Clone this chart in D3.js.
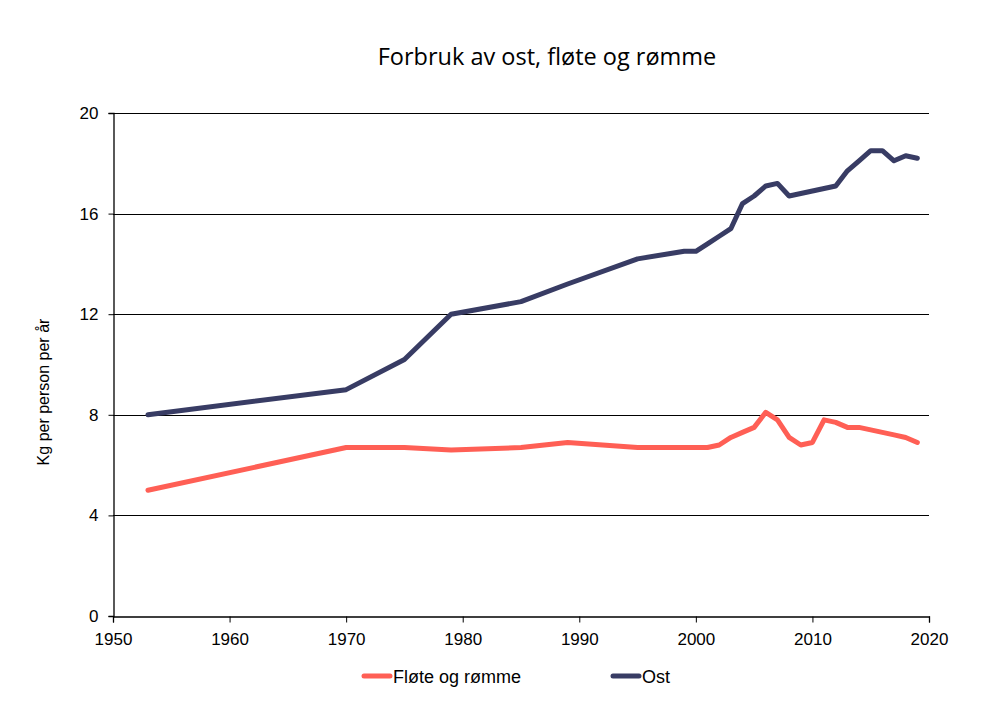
<!DOCTYPE html>
<html><head><meta charset="utf-8">
<script src="https://cdn.jsdelivr.net/npm/d3@7"></script>
<style>body{margin:0;background:#fff}svg{display:block}</style>
</head><body>
<svg id="c" width="1000" height="708"></svg>
<script>
const years = [1953,1970,1975,1979,1985,1989,1995,1999,2000,2001,2002,2003,2004,2005,2006,2007,2008,2009,2010,2011,2012,2013,2014,2015,2016,2017,2018,2019];
const ost   = [8.0,9.0,10.2,12.0,12.5,13.2,14.2,14.5,14.5,14.8,15.1,15.4,16.4,16.7,17.1,17.2,16.7,16.8,16.9,17.0,17.1,17.7,18.1,18.5,18.5,18.1,18.3,18.2];
const flote = [5.0,6.7,6.7,6.6,6.7,6.9,6.7,6.7,6.7,6.7,6.8,7.1,7.3,7.5,8.1,7.8,7.1,6.8,6.9,7.8,7.7,7.5,7.5,7.4,7.3,7.2,7.1,6.9];
const xTicks = [1950,1960,1970,1980,1990,2000,2010,2020];
const yTicks = [0,4,8,12,16,20];
const seriesNames = ["Fløte og rømme","Ost"];
const colors = ["#FF5F55","#383C64"];

const svg = d3.select("#c");
const L=113,R=929,T=113,B=616;
const x = d3.scaleLinear().domain([1950,2020]).range([L,R]);
const y = d3.scaleLinear().domain([0,20]).range([B,T]);

// gridlines
svg.append("g").selectAll("line").data(yTicks.filter(d=>d>0)).join("line")
  .attr("x1",L).attr("x2",R).attr("y1",d=>Math.round(y(d))+0.5).attr("y2",d=>Math.round(y(d))+0.5)
  .attr("stroke","#000").attr("stroke-width",1);

const font = "'Liberation Sans', Arial, sans-serif";
const yAxis = svg.append("g").attr("transform",`translate(${L+0.5},0)`)
  .call(d3.axisLeft(y).tickValues(yTicks).tickSize(5).tickPadding(10).tickFormat(d3.format("d")));
const xAxis = svg.append("g").attr("transform",`translate(0,${Math.round(B)+0.5})`)
  .call(d3.axisBottom(x).tickValues(xTicks).tickSize(6).tickPadding(10).tickFormat(d3.format("d")));
[yAxis,xAxis].forEach(a=>{
  a.select(".domain").attr("stroke","#000").attr("stroke-width",1.3);
  a.selectAll(".tick line").attr("stroke","#000");
  a.selectAll("text").attr("font-family",font).attr("font-size",17).attr("fill","#000");
});

const line = d3.line().x((d,i)=>x(years[i])).y(d=>y(d));
[flote,ost].forEach((s,k)=>{
  svg.append("path").datum(s).attr("d",line).attr("fill","none")
    .attr("stroke",colors[k]).attr("stroke-width",5).attr("stroke-linejoin","round").attr("stroke-linecap","round");
});

svg.append("text").attr("x",547).attr("y",65).attr("text-anchor","middle")
  .attr("font-family","'Open Sans', Carlito, sans-serif").attr("font-size",23.5).attr("fill","#000")
  .text("Forbruk av ost, fløte og rømme");

svg.append("text").attr("transform","translate(49,392) rotate(-90)").attr("text-anchor","middle")
  .attr("font-family",font).attr("font-size",16).attr("fill","#000")
  .text("Kg per person per år");

const legX = [362,611];
seriesNames.forEach((n,k)=>{
  svg.append("line").attr("x1",legX[k]+2).attr("x2",legX[k]+28).attr("y1",676).attr("y2",676)
    .attr("stroke",colors[k]).attr("stroke-width",5).attr("stroke-linecap","round");
  svg.append("text").attr("x",legX[k]+31).attr("y",683).attr("font-family",font).attr("font-size",18)
    .attr("fill","#000").text(n);
});
</script>
</body></html>
